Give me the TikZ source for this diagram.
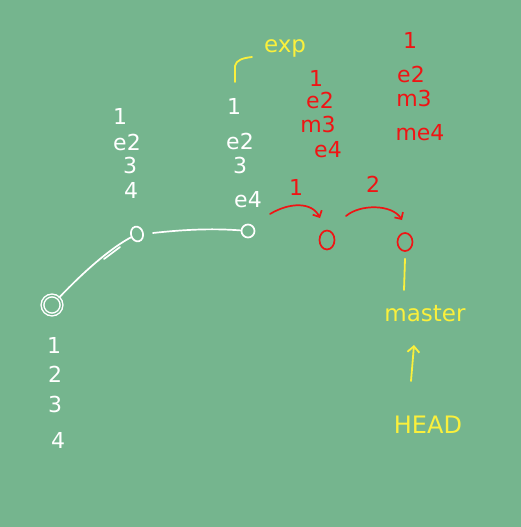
\documentclass[tikz,border=0pt]{standalone}
\usepackage{fontspec}
\setmainfont{DejaVu Sans}
\usetikzlibrary{arrows.meta,shapes.geometric}
\definecolor{bg}{RGB}{117,181,142}
\definecolor{ylw}{RGB}{250,240,60}
\definecolor{rd}{RGB}{240,20,20}
\tikzset{
  wt/.style={text=white,font=\fontsize{22}{22}\selectfont, inner sep=0pt},
  rt/.style={text=rd,font=\fontsize{22}{22}\selectfont, inner sep=0pt},
  yt/.style={text=ylw,font=\fontsize{23}{23}\selectfont, inner sep=0pt},
  wline/.style={draw=white,line width=1.7pt,line cap=round},
  rline/.style={draw=rd,line width=1.7pt,line cap=round},
  yline/.style={draw=ylw,line width=1.8pt,line cap=round},
}
\begin{document}
\begin{tikzpicture}[x=1pt,y=-1pt]
\fill[bg] (0,0) rectangle (521,527);
\useasboundingbox (0,0) rectangle (521,527);
% commits (white)
\node[draw=white,line width=1.5pt,circle,double=bg,double distance=1.2pt,minimum size=19pt,inner sep=0pt] (c0) at (52,305) {};
\node[draw=white,line width=1.7pt,ellipse,minimum width=12pt,minimum height=15pt,inner sep=0pt,rotate=15] (c1) at (137,234) {};
\node[draw=white,line width=1.7pt,circle,minimum size=13pt,inner sep=0pt] (c2) at (248,231) {};
\draw[wline] (c0) .. controls (74,282) and (104,252) .. (c1);
\draw[wline] (104,259) -- (120,247);
\draw[wline] (153,233) .. controls (180,230) and (210,228) .. (c2);
% red commits
\node[draw=rd,line width=1.7pt,ellipse,minimum width=15pt,minimum height=19pt,inner sep=0pt] (r1) at (327,240) {};
\node[draw=rd,line width=1.7pt,ellipse,minimum width=15pt,minimum height=18pt,inner sep=0pt] (r2) at (405,242) {};
\draw[rline,-{Straight Barb[length=5pt]}] (270,214) .. controls (290,202) and (312,202) .. (320,218);
\draw[rline,-{Straight Barb[length=5pt]}] (346,216) .. controls (360,204) and (392,204) .. (402,220);
\node[rt] (a1) at (296,187) {1};
\node[rt] (a2) at (373,184) {2};
% white labels column 1
\node[wt] (l11) at (120,116) {1};
\node[wt] (l12) at (127,142) {e2};
\node[wt] (l13) at (130,165) {3};
\node[wt] (l14) at (131,190) {4};
% white labels column 2
\node[wt] (l21) at (234,106) {1};
\node[wt] (l22) at (240,141) {e2};
\node[wt] (l23) at (240,165) {3};
\node[wt] (l24) at (248,200) {e4};
% under root
\node[wt] (l31) at (54,345) {1};
\node[wt] (l32) at (55,374) {2};
\node[wt] (l33) at (55,404) {3};
\node[wt] (l34) at (58,440) {4};
% red labels
\node[rt] (m11) at (316,78) {1};
\node[rt] (m12) at (320,100) {e2};
\node[rt] (m13) at (318,124) {m3};
\node[rt] (m14) at (328,150) {e4};
\node[rt] (m21) at (410,40) {1};
\node[rt] (m22) at (411,74) {e2};
\node[rt] (m23) at (414,98) {m3};
\node[rt] (m24) at (420,133) {me4};
% yellow
\node[yt] (exp) at (285,48) {exp};
\coordinate (bs) at (235,82);
\draw[yline] (bs) -- (235,66) .. controls (236,60) and (243,58) .. (252,57);
\node[yt] (master) at (425,314) {master};
\node[yt,font=\fontsize{24}{24}\selectfont] (head) at (428,425) {HEAD};
\draw[yline] (r2.south) ++(0,7) -- (404,290);
\draw[yline,-{Straight Barb[length=6pt]}] (head.north) ++(-17,-35) -- (414,345);
\end{tikzpicture}
\end{document}
